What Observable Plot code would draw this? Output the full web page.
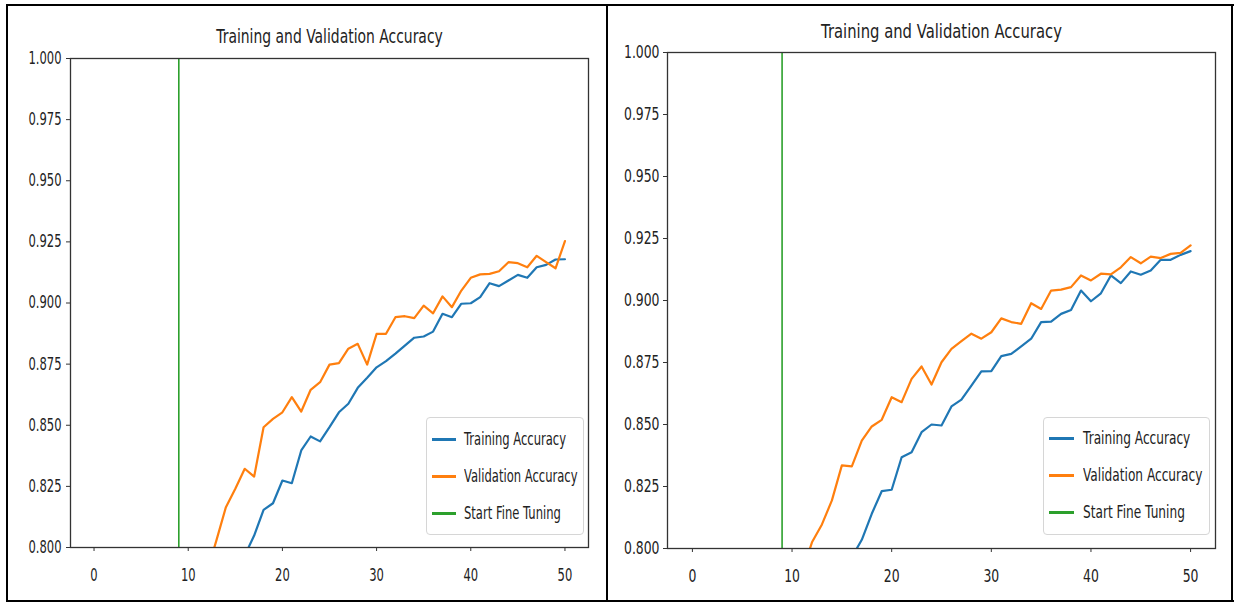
<!DOCTYPE html>
<html>
<head>
<meta charset="utf-8">
<script src="https://cdn.jsdelivr.net/npm/d3@7"></script>
<script src="https://cdn.jsdelivr.net/npm/@observablehq/plot@0.6"></script>
<style>
  html, body { margin: 0; padding: 0; background: #fff; }
  #root { position: relative; width: 1240px; height: 603px; overflow: hidden; font-family: "DejaVu Sans", sans-serif; }
  .panel { position: absolute; top: 0; }
  .bline { position: absolute; background: #000; }
  .legend { position: absolute; background: #fff; border: 1px solid #d6d6d6; border-radius: 4px; box-sizing: border-box; }
  .lrow { position: absolute; left: 0; height: 20px; }
  .lsw { position: absolute; height: 3px; }
  .ltx { position: absolute; white-space: nowrap; color: #222; transform-origin: 0 50%; line-height: 20px; top: 0; }
</style>
</head>
<body>
<div id="root"></div>
<script>
// ---------------- data ----------------
const xTicks = [0, 10, 20, 30, 40, 50];
const yTicks = [0.800, 0.825, 0.850, 0.875, 0.900, 0.925, 0.950, 0.975, 1.000];
const fineTuneEpoch = 9;
const chartTitle = "Training and Validation Accuracy";
const seriesNames = ["Training Accuracy", "Validation Accuracy", "Start Fine Tuning"];
const seriesColors = ["#1f77b4", "#ff7f0e", "#2ca02c"];

// Left chart
const leftTrainEpochs = [16,17,18,19,20,21,22,23,24,25,26,27,28,29,30,31,32,33,34,35,36,37,38,39,40,41,42,43,44,45,46,47,48,49,50];
const leftTrainAcc = [0.7967,0.8049,0.8154,0.8181,0.8274,0.8263,0.8397,0.8454,0.8434,0.8492,0.8553,0.8588,0.8653,0.8694,0.8737,0.8762,0.8793,0.8826,0.8858,0.8863,0.8883,0.8956,0.8942,0.8997,0.8999,0.9024,0.9081,0.9069,0.9092,0.9115,0.9103,0.9146,0.9156,0.9178,0.9179];
const leftValEpochs = [12,13,14,15,16,17,18,19,20,21,22,23,24,25,26,27,28,29,30,31,32,33,34,35,36,37,38,39,40,41,42,43,44,45,46,47,48,49,50];
const leftValAcc = [0.790,0.8030,0.8165,0.8240,0.8322,0.8290,0.8492,0.8526,0.8553,0.8615,0.8556,0.8645,0.8676,0.8748,0.8754,0.8813,0.8833,0.8748,0.8874,0.8874,0.8942,0.8946,0.8938,0.8989,0.8958,0.9027,0.8983,0.9051,0.9103,0.9117,0.9119,0.9130,0.9167,0.9163,0.9146,0.9193,0.9167,0.9142,0.9253];

// Right chart
const rightTrainEpochs = [16,17,18,19,20,21,22,23,24,25,26,27,28,29,30,31,32,33,34,35,36,37,38,39,40,41,42,43,44,45,46,47,48,49,50];
const rightTrainAcc = [0.7965,0.8035,0.8140,0.8231,0.8237,0.8368,0.8388,0.8469,0.8500,0.8496,0.8573,0.8600,0.8657,0.8714,0.8715,0.8776,0.8785,0.8815,0.8846,0.8913,0.8915,0.8946,0.8962,0.9040,0.8997,0.9029,0.9101,0.9070,0.9117,0.9104,0.9121,0.9164,0.9164,0.9184,0.9199];
const rightValEpochs = [11,12,13,14,15,16,17,18,19,20,21,22,23,24,25,26,27,28,29,30,31,32,33,34,35,36,37,38,39,40,41,42,43,44,45,46,47,48,49,50];
const rightValAcc = [0.790,0.8025,0.8097,0.8194,0.8335,0.8331,0.8435,0.8492,0.8519,0.8610,0.8590,0.8684,0.8734,0.8661,0.8751,0.8805,0.8836,0.8866,0.8846,0.8872,0.8928,0.8913,0.8906,0.8989,0.8966,0.9040,0.9044,0.9054,0.9101,0.9081,0.9108,0.9105,0.9134,0.9175,0.9150,0.9177,0.9171,0.9188,0.9192,0.9222];

// ---------------- drawing ----------------
const root = document.getElementById("root");

function toRows(epochs, acc) { return epochs.map((e, i) => ({epoch: e, acc: acc[i]})); }

function makeChart(cfg) {
  const train = toRows(cfg.trainEpochs, cfg.trainAcc);
  const val = toRows(cfg.valEpochs, cfg.valAcc);
  const svg = Plot.plot({
    width: cfg.width, height: 603,
    marginLeft: cfg.ml, marginRight: cfg.mr, marginTop: cfg.mt, marginBottom: cfg.mb,
    style: {fontFamily: "DejaVu Sans, sans-serif", fontSize: cfg.tickFont + "px", color: "#222", background: "transparent", overflow: "visible"},
    x: {domain: [-2.5, 52.5]},
    y: {domain: [0.8, 1.0]},
    marks: [
      Plot.ruleX([fineTuneEpoch], {stroke: seriesColors[2], strokeWidth: 1.6}),
      Plot.line(train, {x: "epoch", y: "acc", stroke: seriesColors[0], strokeWidth: 2.2, clip: true}),
      Plot.line(val, {x: "epoch", y: "acc", stroke: seriesColors[1], strokeWidth: 2.2, clip: true}),
      Plot.frame({stroke: "#333", strokeWidth: 1.3}),
      Plot.axisX({ticks: xTicks, tickSize: 4, tickPadding: cfg.xPad, label: null, stroke: "#333", tickFormat: d => String(d)}),
      Plot.axisY({ticks: yTicks, tickSize: 4, tickPadding: cfg.yPad, label: null, stroke: "#333", tickFormat: d3.format(".3f")}),
      Plot.text([chartTitle], {frameAnchor: "top", dy: -cfg.titleDy, fontSize: cfg.titleFont, fill: "#222", lineAnchor: "bottom", text: d => d, className: "ttl"})
    ]
  });
  svg.querySelectorAll("text").forEach(t => {
    const isTitle = t.textContent === chartTitle;
    const tr = t.getAttribute("transform") || "";
    t.setAttribute("transform", tr + ` scale(${isTitle ? cfg.titleSx : cfg.sx},1)`);
  });
  const wrap = document.createElement("div");
  wrap.className = "panel";
  wrap.style.left = cfg.left + "px";
  wrap.appendChild(svg);
  root.appendChild(wrap);

  // legend (HTML overlay inside plot area)
  const lg = document.createElement("div");
  lg.className = "legend";
  lg.style.left = cfg.legend.x + "px"; lg.style.top = cfg.legend.y + "px";
  lg.style.width = cfg.legend.w + "px"; lg.style.height = cfg.legend.h + "px";
  seriesNames.forEach((name, i) => {
    const row = document.createElement("div");
    row.className = "lrow";
    row.style.top = (cfg.legend.rowY[i] - cfg.legend.y - 10) + "px";
    const sw = document.createElement("div");
    sw.className = "lsw";
    sw.style.background = seriesColors[i];
    sw.style.left = (cfg.legend.swX - cfg.legend.x) + "px";
    sw.style.width = cfg.legend.swW + "px";
    sw.style.top = "8.5px";
    const tx = document.createElement("div");
    tx.className = "ltx";
    tx.textContent = name;
    tx.style.left = (cfg.legend.txX - cfg.legend.x) + "px";
    tx.style.fontSize = cfg.legendFont + "px";
    tx.style.transform = `scaleX(${cfg.legendSx})`;
    row.appendChild(sw); row.appendChild(tx);
    lg.appendChild(row);
  });
  root.appendChild(lg);
}

makeChart({
  left: 0, width: 607, ml: 70, mr: 19, mt: 58, mb: 56,
  trainEpochs: leftTrainEpochs, trainAcc: leftTrainAcc, valEpochs: leftValEpochs, valAcc: leftValAcc,
  tickFont: 17, titleFont: 19, legendFont: 17, sx: 0.68, titleSx: 0.733, legendSx: 0.68, xPad: 17, yPad: 5, titleDy: 16,
  legend: {x: 426, y: 417, w: 158, h: 118, rowY: [438, 475, 512], swX: 431, swW: 24, txX: 463}
});
makeChart({
  left: 607, width: 633, ml: 60, mr: 25, mt: 52, mb: 55,
  trainEpochs: rightTrainEpochs, trainAcc: rightTrainAcc, valEpochs: rightValEpochs, valAcc: rightValAcc,
  tickFont: 17, titleFont: 20, legendFont: 17, sx: 0.73, titleSx: 0.74, legendSx: 0.715, xPad: 17, yPad: 4, titleDy: 15,
  legend: {x: 1043, y: 417, w: 167, h: 118, rowY: [437, 474, 511], swX: 1048, swW: 25, txX: 1082}
});

// outer borders of the composite image
[[6, 4, 1228, 2], [6, 600, 1228, 2], [6, 4, 2, 598], [606, 4, 2, 598], [1231, 4, 2, 598]].forEach(([x, y, w, h]) => {
  const d = document.createElement("div");
  d.className = "bline";
  Object.assign(d.style, {left: x + "px", top: y + "px", width: w + "px", height: h + "px"});
  root.appendChild(d);
});
</script>
</body>
</html>
